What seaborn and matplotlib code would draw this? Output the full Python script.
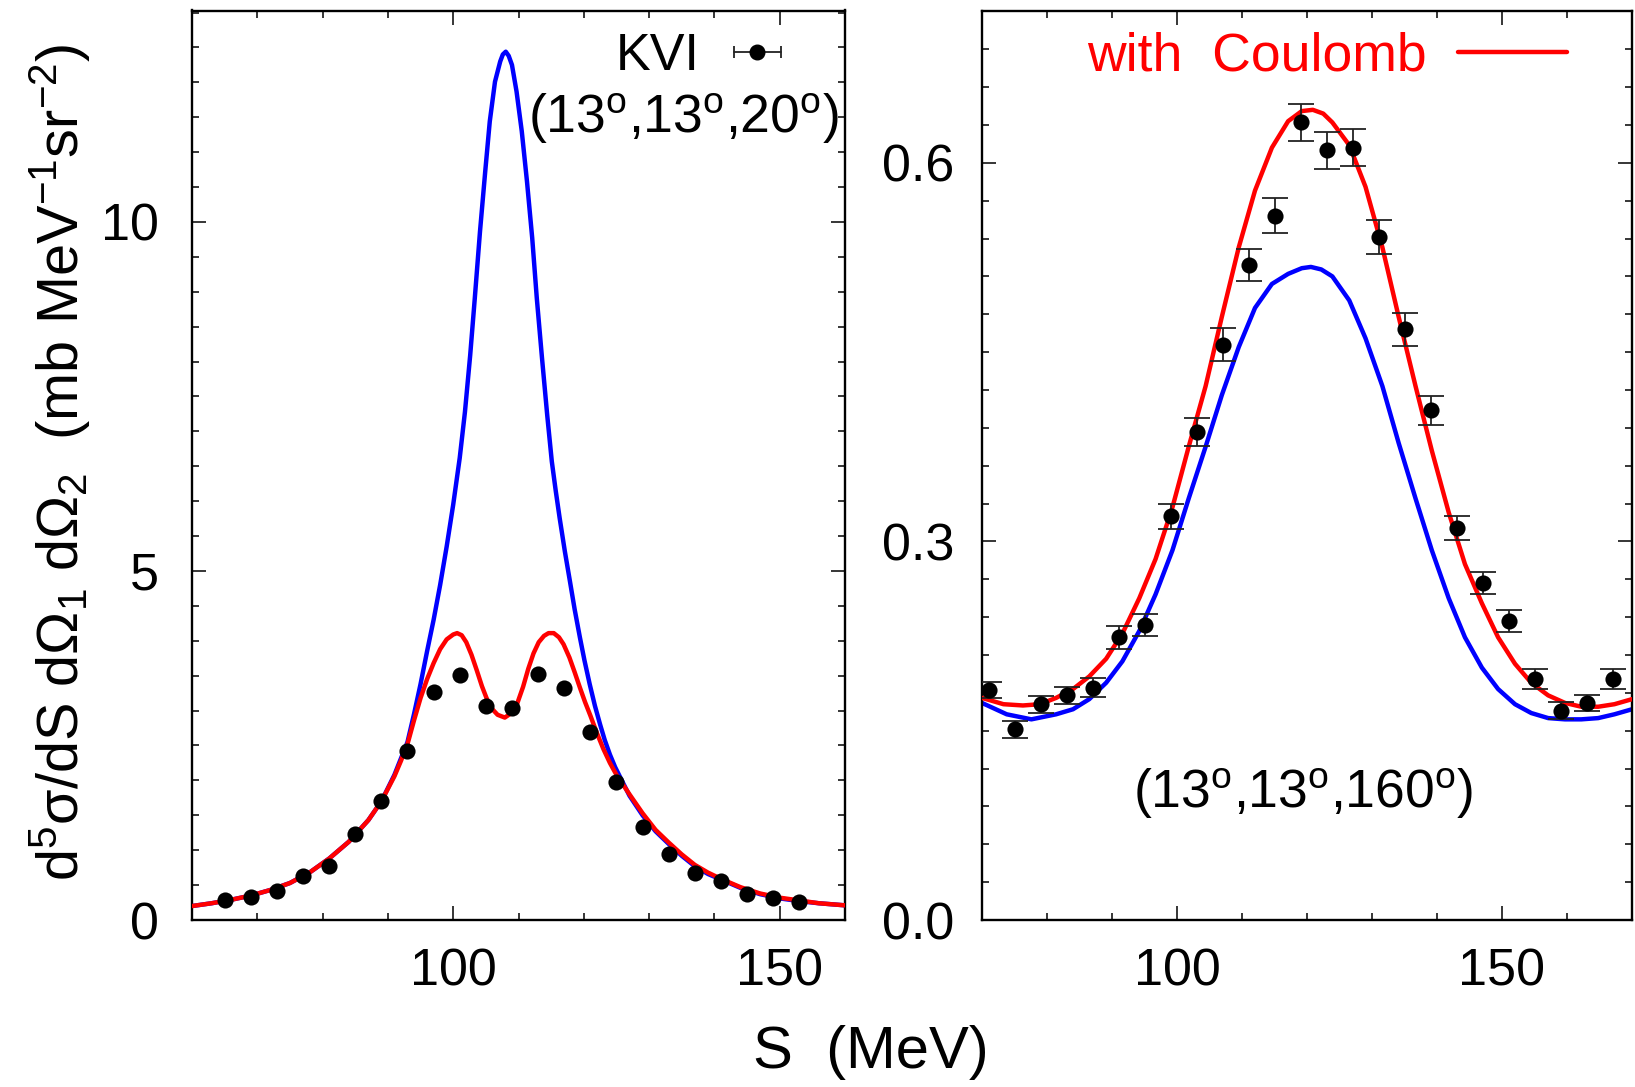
import matplotlib
matplotlib.use("Agg")
import matplotlib.pyplot as plt
import seaborn as sns
from matplotlib.ticker import MultipleLocator, FixedLocator

# ---------------- data ----------------
# Left panel (13,13,20)
left_data_S = [65, 69, 73, 77, 81, 85, 89, 93, 97, 101, 105, 109, 113, 117,
               121, 125, 129, 133, 137, 141, 145, 149, 153]
left_data_Y = [0.28, 0.33, 0.42, 0.63, 0.77, 1.23, 1.70, 2.42, 3.27, 3.51, 3.07,
               3.04, 3.52, 3.33, 2.70, 1.97, 1.33, 0.94, 0.67, 0.56, 0.37, 0.32, 0.26]

left_blue_S = [60, 63, 66, 69, 72, 75, 78, 81, 84, 87, 89, 91, 93, 94, 95, 96, 97,
               98, 99, 100, 101, 101.8, 102.6, 103.3, 104.1, 104.9, 105.6, 106.4,
               107.2, 107.6, 108.05, 108.5, 109.0, 109.7, 110.5, 111.3, 112.1, 112.8,
               113.6, 114.4, 115.1, 115.7, 116.3, 117.1, 117.9, 118.6, 119.4, 120.1,
               120.9, 121.7, 122.5, 123.2, 124.0, 124.8, 125.6,
               127, 129, 131, 133, 135, 137, 139, 141, 144, 147, 150, 153, 156, 160]
left_blue_Y = [0.20, 0.24, 0.29, 0.35, 0.43, 0.53, 0.68, 0.88, 1.12, 1.43, 1.70, 2.08,
               2.55, 2.95, 3.38, 3.85, 4.30, 4.80, 5.35, 5.95, 6.62, 7.28, 8.09, 8.90,
               9.86, 10.72, 11.44, 12.01, 12.30, 12.40, 12.44, 12.38, 12.25, 11.87,
               11.30, 10.58, 9.77, 8.91, 8.05, 7.23, 6.57, 6.15, 5.76, 5.28, 4.84,
               4.45, 4.05, 3.72, 3.38, 3.07, 2.80, 2.58, 2.37, 2.19, 2.04,
               1.78, 1.50, 1.27, 1.09, 0.92, 0.77, 0.66, 0.58, 0.46, 0.37,
               0.31, 0.27, 0.24, 0.21]

left_red_S = [60, 63, 66, 69, 72, 75, 78, 81, 84, 87, 89, 91, 92, 93, 94, 95, 96, 97,
              98, 99, 100, 100.6, 101.3, 102, 102.8, 103.6, 104.4, 105.1, 106, 106.8,
              107.9, 109, 109.8, 110.7, 111.5, 112.3, 113.1, 113.9, 114.6, 115.4, 116.2,
              116.9, 117.8, 118.6, 119.4, 120.2, 121, 122, 123, 124, 125, 126, 127, 129,
              131, 133, 135, 137, 139, 141, 144, 147, 150, 153, 156, 160]
left_red_Y = [0.20, 0.24, 0.29, 0.35, 0.43, 0.53, 0.68, 0.88, 1.12, 1.43, 1.70, 2.06,
              2.28, 2.52, 2.86, 3.18, 3.45, 3.68, 3.88, 4.02, 4.09, 4.11, 4.08, 3.98,
              3.80, 3.58, 3.35, 3.18, 3.02, 2.94, 2.90, 2.97, 3.10, 3.34, 3.60, 3.82,
              3.98, 4.07, 4.11, 4.11, 4.05, 3.95, 3.76, 3.55, 3.33, 3.12, 2.93, 2.68,
              2.45, 2.25, 2.08, 1.94, 1.80, 1.53, 1.29, 1.11, 0.94, 0.79, 0.68, 0.59,
              0.47, 0.38, 0.32, 0.28, 0.24, 0.21]

# Right panel (13,13,160)
right_data_S = [71, 75, 79, 83, 87, 91, 95, 99, 103, 107, 111, 115, 119, 123, 127,
                131, 135, 139, 143, 147, 151, 155, 159, 163, 167]
right_data_Y = [0.182, 0.151, 0.171, 0.178, 0.184, 0.224, 0.234, 0.320, 0.387, 0.456,
                0.519, 0.558, 0.632, 0.610, 0.612, 0.541, 0.468, 0.404, 0.311, 0.267,
                0.237, 0.191, 0.166, 0.172, 0.191]
right_data_err = [0.0064, 0.0066, 0.0066, 0.0066, 0.0076, 0.0090, 0.0088, 0.0100,
                  0.0110, 0.0128, 0.0128, 0.0138, 0.0145, 0.0147, 0.0147, 0.0135,
                  0.0128, 0.0116, 0.0095, 0.0088, 0.0085, 0.0076, 0.0066, 0.0062, 0.0076]

right_red_S = [70, 73.3, 76.3, 78.9, 81.4, 84.0, 86.5, 89.1, 91.6, 94.2, 96.7, 99.3,
               101.8, 104.4, 106.9, 109.5, 112.0, 114.6, 117.1, 119.2, 120.9, 122.5,
               123.9, 126.5, 129.0, 131.6, 134.1, 136.7, 139.2, 141.8, 144.3, 146.9,
               149.4, 152.0, 154.5, 157.1, 159.7, 162.2, 164.8, 167.3, 170]
right_red_Y = [0.176, 0.171, 0.170, 0.171, 0.176, 0.183, 0.193, 0.207, 0.227, 0.255,
               0.286, 0.327, 0.375, 0.423, 0.478, 0.533, 0.578, 0.612, 0.633, 0.641,
               0.642, 0.639, 0.632, 0.614, 0.581, 0.533, 0.478, 0.423, 0.372, 0.323,
               0.282, 0.251, 0.224, 0.203, 0.188, 0.178, 0.172, 0.169, 0.169, 0.171,
               0.175]

right_blue_S = [70, 73.8, 77.6, 81.4, 84.0, 86.5, 89.1, 91.6, 94.2, 96.7, 99.3, 101.8,
                104.4, 106.9, 109.5, 112.0, 114.6, 117.1, 119.2, 120.6, 122.2, 123.9,
                126.5, 129.0, 131.6, 134.1, 136.7, 139.2, 141.8, 144.3, 146.9, 149.4,
                152.0, 154.5, 157.1, 159.7, 162.2, 164.8, 167.3, 170]
right_blue_Y = [0.172, 0.163, 0.159, 0.163, 0.167, 0.175, 0.188, 0.205, 0.229, 0.258,
                0.293, 0.334, 0.375, 0.416, 0.454, 0.485, 0.504, 0.512, 0.5165, 0.5175,
                0.5155, 0.510, 0.491, 0.461, 0.423, 0.378, 0.334, 0.293, 0.255, 0.224,
                0.200, 0.183, 0.171, 0.164, 0.160, 0.159, 0.159, 0.160, 0.163, 0.167]

left_yticks = [0, 5, 10]
left_yticklabels = ["0", "5", "10"]
right_yticks = [0.0, 0.3, 0.6]
right_yticklabels = ["0.0", "0.3", "0.6"]
xticks = [100, 150]
xticklabels = ["100", "150"]

# ---------------- style ----------------
sns.set_style("ticks")
plt.rcParams["font.family"] = ["Liberation Sans", "DejaVu Sans"]
plt.rcParams["mathtext.fontset"] = "custom"
plt.rcParams["mathtext.rm"] = "Liberation Sans"
plt.rcParams["mathtext.it"] = "Liberation Sans:italic"
plt.rcParams["mathtext.bf"] = "Liberation Sans:bold"
plt.rcParams["mathtext.sf"] = "Liberation Sans"
for k in ("text.color", "axes.labelcolor", "xtick.color", "ytick.color", "axes.edgecolor"):
    plt.rcParams[k] = "black"

W, H = 1635, 1087
fig = plt.figure(figsize=(W / 100, H / 100), dpi=100)
axL = fig.add_axes([192 / W, 1 - 920 / H, 653 / W, 909.5 / H])
axR = fig.add_axes([982 / W, 1 - 920 / H, 650 / W, 909.5 / H])

BLUE = "#0000ff"
RED = "#ff0000"
FS = 37.5
LW = 3.2
MS = 135

# Left panel
sns.lineplot(x=left_blue_S, y=left_blue_Y, ax=axL, color=BLUE, lw=LW, estimator=None, sort=False, zorder=2)
sns.lineplot(x=left_red_S, y=left_red_Y, ax=axL, color=RED, lw=LW, estimator=None, sort=False, zorder=3)
sns.scatterplot(x=left_data_S, y=left_data_Y, ax=axL, color="black", s=MS, linewidth=0, zorder=5)

# Right panel
sns.lineplot(x=right_blue_S, y=right_blue_Y, ax=axR, color=BLUE, lw=LW, estimator=None, sort=False, zorder=2)
sns.lineplot(x=right_red_S, y=right_red_Y, ax=axR, color=RED, lw=LW, estimator=None, sort=False, zorder=3)
axR.errorbar(right_data_S, right_data_Y, yerr=right_data_err, fmt="none",
             ecolor="#222222", elinewidth=1.3, capsize=9.4, capthick=1.3, zorder=4)
sns.scatterplot(x=right_data_S, y=right_data_Y, ax=axR, color="black", s=MS, linewidth=0, zorder=5)

for ax in (axL, axR):
    ax.set_xlim(60 if ax is axL else 70, 160 if ax is axL else 170)
    ax.xaxis.set_major_locator(FixedLocator(xticks))
    ax.set_xticklabels(xticklabels)
    ax.xaxis.set_minor_locator(MultipleLocator(10))
    ax.tick_params(which="both", direction="in", top=True, right=True,
                   labelsize=FS, width=1.1, color="black", labelcolor="black")
    ax.tick_params(which="major", length=10)
    ax.tick_params(which="minor", length=5)
    ax.tick_params(axis="x", which="major", pad=20)
    for sp in ax.spines.values():
        sp.set_linewidth(1.7)
        sp.set_color("black")
    ax.set_xlabel("")
    ax.set_ylabel("")

axL.set_ylim(0, 13.03)
axL.yaxis.set_major_locator(FixedLocator(left_yticks))
axL.set_yticklabels(left_yticklabels)
axL.yaxis.set_minor_locator(MultipleLocator(0.5))
axL.tick_params(axis="y", which="major", pad=24)

axR.set_ylim(0, 0.7207)
axR.yaxis.set_major_locator(FixedLocator(right_yticks))
axR.set_yticklabels(right_yticklabels)
axR.yaxis.set_minor_locator(MultipleLocator(0.03))
axR.tick_params(axis="y", which="major", pad=20)

# Legend / annotations
axL.text(0.778, 0.9346, "KVI", transform=axL.transAxes, ha="right", va="baseline", fontsize=FS)
axL.plot([0.830, 0.902], [0.9544, 0.9544], transform=axL.transAxes, color="#222222", lw=1.3, clip_on=False)
axL.plot([0.830, 0.902], [0.9544, 0.9544], transform=axL.transAxes, ls="none", marker="|",
         ms=9, mew=1.3, color="#222222", clip_on=False)
axL.plot([0.865], [0.9544], transform=axL.transAxes, ls="none", marker="o", ms=10.5,
         color="black", mec="black", clip_on=False)
axL.text(0.991, 0.865, r"(13$^{\rm o}$,13$^{\rm o}$,20$^{\rm o}$)", transform=axL.transAxes,
         ha="right", va="baseline", fontsize=38.5)

axR.text(0.161, 0.9335, "with  Coulomb", transform=axR.transAxes, ha="left", va="baseline",
         fontsize=38.5, color=RED)
axR.plot([0.732, 0.900], [0.9544, 0.9544], transform=axR.transAxes, color=RED, lw=LW)
axR.text(0.494, 0.123, r"(13$^{\rm o}$,13$^{\rm o}$,160$^{\rm o}$)", transform=axR.transAxes,
         ha="center", va="baseline", fontsize=38.5)

fig.text(60 / W, 1 - 462 / H, r"d$^5$σ/dS dΩ$_1$ dΩ$_2$  (mb MeV$^{-1}$sr$^{-2}$)",
         rotation=90, ha="center", va="center", fontsize=41.5)
fig.text(871 / W, 1 - 1053 / H, "S  (MeV)", ha="center", va="center", fontsize=43)

fig.savefig("out.png", dpi=100)
